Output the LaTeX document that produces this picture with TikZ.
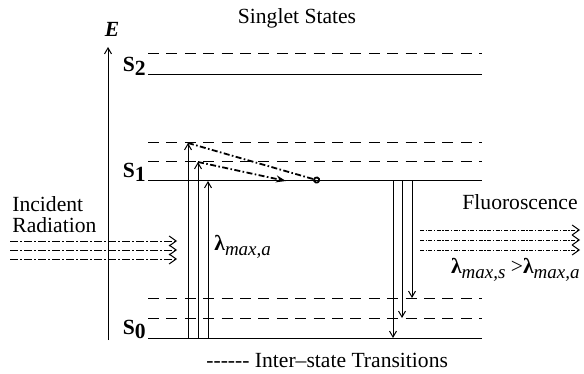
\documentclass[tikz,border=0pt]{standalone}
\usepackage{fontspec}
\setmainfont{Liberation Serif}
\usetikzlibrary{arrows.meta,positioning,calc}

\newcommand{\lsub}[1]{\raisebox{-2.6pt}{\fontsize{9.5}{10}\selectfont\itshape #1}}

\tikzset{
  level/.style={line width=0.5pt},
  sublevel/.style={line width=0.5pt, dash pattern=on 5.5pt off 3.7pt},
  updown/.style={line width=0.5pt, -{Straight Barb[length=3pt,width=3.5pt]}},
  relax/.style={line width=0.9pt, dash pattern=on 3pt off 1.2pt on 0.8pt off 1.2pt},
  beam/.style={line width=0.5pt, dash pattern=on 4pt off 1pt on 1pt off 1pt,
    -{Straight Barb[length=3.5pt,width=5pt]}},
  glow/.style={line width=0.5pt, dash pattern=on 2pt off 0.8pt on 0.6pt off 0.8pt,
    -{Straight Barb[length=3.5pt,width=5pt]}},
  lbl/.style={inner sep=0pt, font=\fontsize{10.8}{10.6}\selectfont},
  statelbl/.style={lbl, anchor=base east, font=\fontsize{10.8}{12}\selectfont\bfseries},
}

\begin{document}
\begin{tikzpicture}[x=0.5pt,y=-0.5pt]
    \useasboundingbox (0,0) rectangle (584,374);

    % Energy axis
    \coordinate (Ebot) at (108,340);
    \coordinate (Etop) at (108,47);
    \draw[updown] (Ebot) -- (Etop);
    \node[lbl, anchor=base, font=\fontsize{10.8}{12}\selectfont\bfseries\itshape] (E) at (112,37) {E};
    \node[lbl, anchor=base] (title) at (297,24) {Singlet States};

    % Singlet levels (solid) and vibrational sublevels (dashed)
    \foreach \name/\y in {s2/75, s1/181, s0/338} {
        \coordinate (\name-l) at (148,\y);
        \coordinate (\name-r) at (482,\y);
        \draw[level] (\name-l) -- (\name-r);
    }
    \foreach \name/\y in {v2a/54, v1a/143, v1b/162, v0a/298, v0b/318} {
        \coordinate (\name-l) at (148,\y);
        \coordinate (\name-r) at (482,\y);
        \draw[sublevel] (\name-l) -- (\name-r);
    }
    \node[statelbl] (S2) at (146,72) {S\raisebox{-2pt}{2}};
    \node[statelbl] (S1) at (146,177) {S\raisebox{-2pt}{1}};
    \node[statelbl] (S0) at (146,334) {S\raisebox{-2pt}{0}};

    % Absorption S0 -> S1
    \foreach \i/\x/\y in {1/188/143, 2/198/162, 3/208/181} {
        \coordinate (ex\i-b) at (\x,338);
        \coordinate (ex\i-t) at (\x,\y);
        \draw[updown] (ex\i-b) -- (ex\i-t);
    }
    \node[lbl, anchor=base west] (lama) at (214,250)
        {{\bfseries λ}\lsub{max,a}};

    % Relaxation inside S1
    \coordinate (rx1) at (320,181);
    \coordinate (rx2) at (286,181);
    \draw[relax, -{Circle[open,length=3.5pt]}] (ex1-t) -- (rx1);
    \draw[relax, -{Stealth[length=5pt,width=3.5pt]}] (ex2-t) -- (rx2);

    % Emission S1 -> S0
    \foreach \i/\x/\y in {1/393/338, 2/402/318, 3/412/298} {
        \coordinate (em\i-t) at (\x,181);
        \coordinate (em\i-b) at (\x,\y);
        \draw[updown] (em\i-t) -- (em\i-b);
    }

    % Incident radiation
    \node[lbl, anchor=north west, align=left] (inc) at (12,196) {Incident\\Radiation};
    \foreach \i/\y in {1/241, 2/250, 3/259} {
        \coordinate (in\i-s) at (10,\y);
        \coordinate (in\i-e) at (177,\y);
        \draw[beam] (in\i-s) -- (in\i-e);
    }

    % Fluorescence
    \node[lbl, anchor=base east] (flu) at (578,209) {Fluoroscence};
    \foreach \i/\y in {1/230, 2/240, 3/250} {
        \coordinate (fl\i-s) at (420,\y);
        \coordinate (fl\i-e) at (580,\y);
        \draw[glow] (fl\i-s) -- (fl\i-e);
    }
    \node[lbl, anchor=base east] (lams) at (580,273)
        {{\bfseries λ}\lsub{max,s} >{\bfseries λ}\lsub{max,a}};

    % Legend
    \node[lbl, anchor=base west] (legend) at (206,367) {{-}{-}{-}{-}{-}{-} Inter–state Transitions};
\end{tikzpicture}
\end{document}
